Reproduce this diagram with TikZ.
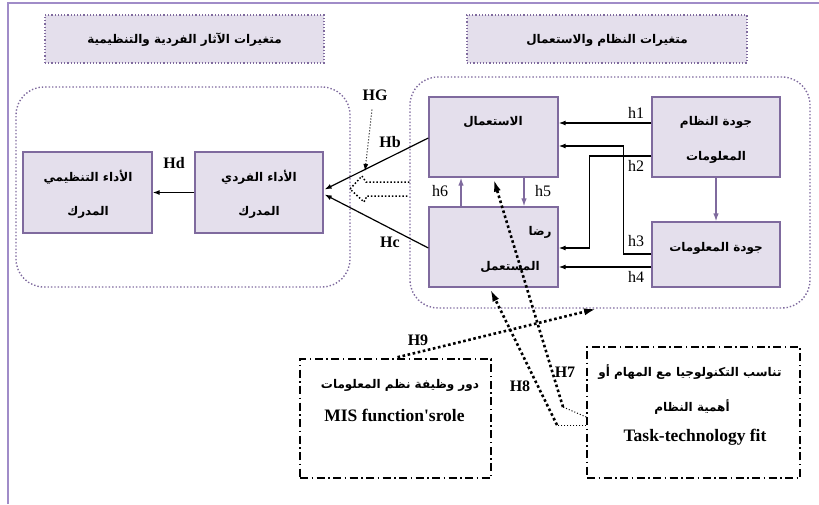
\documentclass[tikz,border=0pt]{standalone}
\usepackage{fontspec}
\setmainfont{Liberation Serif}
\newfontfamily\arabicfont[Script=Arabic]{DejaVu Sans}
\TeXXeTstate=1
\usetikzlibrary{arrows.meta,calc}
\newcommand\artxt[1]{{\arabicfont\bfseries\beginR #1\endR}}
\definecolor{boxfill}{HTML}{E4DFEC}
\definecolor{boxdraw}{HTML}{7F6A9E}
\definecolor{framec}{HTML}{A08CC8}
\tikzset{
  box/.style={draw=boxdraw, fill=boxfill, line width=1.3pt, inner sep=0pt},
  titlebox/.style={draw=boxdraw, fill=boxfill, dotted, line width=1.2pt, inner sep=0pt},
  cont/.style={draw=boxdraw, dotted, line width=1.4pt, rounded corners=28pt, inner sep=0pt},
  mbox/.style={draw=black, line width=1.5pt, dash pattern=on 8pt off 3.5pt on 1.5pt off 3.5pt, inner sep=0pt},
  arr/.style={-{Latex[length=7pt,width=5pt]}, line width=1.2pt, black},
  parr/.style={-{Latex[length=8pt,width=5.5pt]}, line width=1.3pt, boxdraw},
  bigdot/.style={line width=2.6pt, dash pattern=on 2.6pt off 2.6pt},
  thindot/.style={line width=1pt, dotted},
  artext/.style={font=\fontsize{12}{14}\selectfont, inner sep=1pt},
  lattext/.style={font=\fontsize{17.5}{19}\selectfont\bfseries, inner sep=1pt},
  hlab/.style={font=\fontsize{16}{18}\selectfont, inner sep=0pt},
  Hlab/.style={font=\fontsize{16}{18}\selectfont\bfseries, inner sep=0pt},
}
\begin{document}
\begin{tikzpicture}[x=1pt,y=-1pt]
\useasboundingbox (0,0) rectangle (819,504);
% outer frame
\draw[framec, line width=2pt] (8,504) -- (8,3) -- (819,3);
% titles
\node[titlebox, minimum width=279pt, minimum height=48pt] (titleL) at (184.5,39) {};
\node[titlebox, minimum width=280pt, minimum height=48pt] (titleR) at (607,39) {};
\node[artext] (tLtext) at (184.5,40) {\artxt{متغيرات الآثار الفردية والتنظيمية}};
\node[artext] (tRtext) at (607,40) {\artxt{متغيرات النظام والاستعمال}};
% containers
\node[cont, minimum width=334pt, minimum height=200pt] (contL) at (183,187) {};
\node[cont, minimum width=400pt, minimum height=231pt] (contR) at (610,192.5) {};
% boxes
\node[box, minimum width=129pt, minimum height=81pt] (org) at (87.5,192.5) {};
\node[box, minimum width=128pt, minimum height=81pt] (ind) at (259,192.5) {};
\node[box, minimum width=129pt, minimum height=80pt] (use) at (493.5,137) {};
\node[box, minimum width=129pt, minimum height=80pt] (sat) at (493.5,247) {};
\node[box, minimum width=128pt, minimum height=80pt] (sysq) at (716,137) {};
\node[box, minimum width=128pt, minimum height=65pt] (infq) at (716,254.5) {};
\node[mbox, minimum width=191pt, minimum height=119pt] (mis) at (395.5,418.5) {};
\node[mbox, minimum width=213pt, minimum height=131pt] (ttf) at (693.5,412.5) {};
% box texts
\node[artext] (orgA) at (88,177) {\artxt{الأداء التنظيمي}};
\node[artext] (orgB) at (88,212) {\artxt{المدرك}};
\node[artext] (indA) at (259,177) {\artxt{الأداء الفردي}};
\node[artext] (indB) at (259,212) {\artxt{المدرك}};
\node[artext] (useA) at (493,122) {\artxt{الاستعمال}};
\node[artext] (satA) at (540,232) {\artxt{رضا}};
\node[artext] (satB) at (510,267) {\artxt{المستعمل}};
\node[artext] (sysA) at (716,122) {\artxt{جودة النظام}};
\node[artext] (sysB) at (716,157) {\artxt{المعلومات}};
\node[artext] (infA) at (716,248) {\artxt{جودة المعلومات}};
\node[artext] (misA) at (400,385) {\artxt{دور وظيفة نظم المعلومات}};
\node[lattext] (misB) at (394.5,415) {MIS function\textquotesingle srole};
\node[artext] (ttfA) at (690,372) {\artxt{تناسب التكنولوجيا مع المهام أو}};
\node[artext] (ttfB) at (692,407) {\artxt{أهمية النظام}};
\node[lattext] (ttfC) at (695,437) {Task-technology fit};
% inner arrows
\draw[arr] ($(sysq.west)+(0,-14)$) -- ($(use.east)+(0,-14)$);
\draw[arr] ($(sysq.west)+(0,19)$) -| ($(sat.east)+(31,1)$) -- ($(sat.east)+(0,1)$);
\draw[arr] ($(infq.west)+(0,-0.5)$) -| ($(use.east)+(65,9)$) -- ($(use.east)+(0,9)$);
\draw[arr] ($(infq.west)+(0,12.5)$) -- ($(sat.east)+(0,20)$);
\draw[parr] (sysq.south) -- (infq.north);
\draw[parr] ($(use.south)+(30.5,0)$) -- ($(sat.north)+(30.5,0)$);
\draw[parr] ($(sat.north)+(-32.5,0)$) -- ($(use.south)+(-32.5,0)$);
\node[hlab] (h1) at (636,113) {h1};
\node[hlab] (h2) at (636,166) {h2};
\node[hlab] (h3) at (636,241) {h3};
\node[hlab] (h4) at (636,277) {h4};
\node[hlab] (h5) at (543,191) {h5};
\node[hlab] (h6) at (440,191) {h6};
% outer arrows
\draw[arr] ($(use.west)+(0,1)$) -- ($(ind.east)+(1,-3)$);
\draw[arr] ($(sat.west)+(0,1)$) -- ($(ind.east)+(1,2)$);
\draw[arr] (ind.west) -- (org.east);
\node[Hlab] (Hb) at (390,142) {Hb};
\node[Hlab] (Hc) at (390,242) {Hc};
\node[Hlab] (Hd) at (174,163) {Hd};
\node[Hlab] (HG) at (375,95) {HG};
\coordinate (hgend) at (365,171);
\draw[thindot, -{Latex[length=7pt,width=5pt]}] ($(HG.south)+(-3,9)$) -- (hgend);
% hollow dotted double arrow
\draw[line width=1.5pt, dotted] (contR.west |- 0,182) -- (366,182) -- (362,176) -- (350,189) -- (364,202) -- (367,196) -- (contR.west |- 0,196);
% H9
\draw[bigdot, -{Latex[length=13pt,width=7pt]}] ($(mis.north)+(2,-1)$) -- ($(contR.south)+(-13,0)$);
\node[Hlab] (H9) at (418,340) {H9};
% H8
\coordinate (h8k) at (557,425);
\draw[thindot] ($(ttf.west)+(0,12.5)$) -- (h8k);
\draw[bigdot, -{Latex[length=13pt,width=7pt]}] (h8k) -- ($(sat.south)+(-3.5,1)$);
\node[Hlab] (H8) at (520,386) {H8};
% H7
\coordinate (h7k) at (563,407);
\draw[thindot] ($(ttf.west)+(0,4.5)$) -- (h7k);
\draw[bigdot, -{Latex[length=13pt,width=7pt]}] (h7k) -- ($(use.south)+(0,1)$);
\node[Hlab] (H7) at (565,372) {H7};
\end{tikzpicture}
\end{document}
